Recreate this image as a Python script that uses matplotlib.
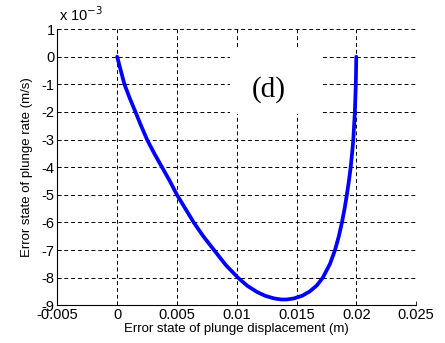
import numpy as np
import matplotlib
matplotlib.use("Agg")
import matplotlib.pyplot as plt
from matplotlib.patches import Rectangle

# error state of plunge displacement (m)
x_disp = [0.0, 0.00015, 0.0003, 0.00061, 0.00105, 0.00153, 0.0020, 0.0025,
          0.0031, 0.00375, 0.0044, 0.0050, 0.0057, 0.0064, 0.0072, 0.0081,
          0.0091, 0.0101, 0.0109, 0.0117, 0.0124, 0.0131, 0.0137, 0.0142,
          0.0148, 0.0155, 0.0161, 0.0167, 0.0172, 0.0178, 0.01822, 0.01854,
          0.0188, 0.01902, 0.01921, 0.01938, 0.01953, 0.01965, 0.01975, 0.01988,
          0.01996, 0.0200]
# error state of plunge rate (x 1e-3 m/s)
y_rate = [0.0, -0.25, -0.5, -1.0, -1.5, -2.0, -2.5, -3.0,
          -3.5, -4.0, -4.5, -5.0, -5.5, -6.0, -6.5, -7.0,
          -7.55, -8.0, -8.3, -8.52, -8.66, -8.75, -8.79, -8.79,
          -8.75, -8.65, -8.5, -8.28, -8.0, -7.5, -7.0, -6.5,
          -6.0, -5.5, -5.0, -4.5, -4.0, -3.5, -3.0, -2.0,
          -1.0, 0.0]

x_ticks = [-0.005, 0, 0.005, 0.01, 0.015, 0.02, 0.025]
x_labels = ["-0.005", "0", "0.005", "0.01", "0.015", "0.02", "0.025"]
y_ticks = list(range(-9, 2))

plt.rcParams["font.family"] = ["Liberation Sans", "DejaVu Sans"]

fig = plt.figure(figsize=(4.45, 3.43), dpi=100)
ax = fig.add_axes([0.129, 0.110, 0.806, 0.805])

ax.plot(x_disp, y_rate, color="#0000ff", lw=2.7, solid_capstyle="round",
        solid_joinstyle="round", zorder=3)

ax.set_xlim(-0.005, 0.025)
ax.set_ylim(-9, 1)
ax.set_xticks(x_ticks)
ax.set_xticklabels(x_labels)
ax.set_yticks(y_ticks)
ax.set_yticklabels([str(v) for v in y_ticks])
ax.tick_params(direction="in", length=3, width=0.6, labelsize=10.5, pad=2)

ax.grid(True, color="black", linestyle=(0, (4, 3)), linewidth=0.7)
for s in ["top", "right"]:
    ax.spines[s].set_visible(False)
for s in ["left", "bottom"]:
    ax.spines[s].set_linewidth(0.8)

ax.set_xlabel("Error state of plunge displacement (m)", fontsize=9.5, labelpad=1)
ax.set_ylabel("Error state of plunge rate (m/s)", fontsize=9.5, labelpad=6)

# white box behind the panel label
ax.add_patch(Rectangle((0.481, 0.693), 0.257, 0.239, transform=ax.transAxes,
                       facecolor="white", edgecolor="none", zorder=2))
ax.text(0.590, 0.78, "(d)", transform=ax.transAxes, ha="center", va="center",
        fontsize=21, family=["Liberation Serif", "DejaVu Serif"], zorder=4)

fig.text(0.133, 0.94, r"x 10$^{-3}$", fontsize=10.5, ha="left", va="baseline")

fig.savefig("out.png", dpi=100)
